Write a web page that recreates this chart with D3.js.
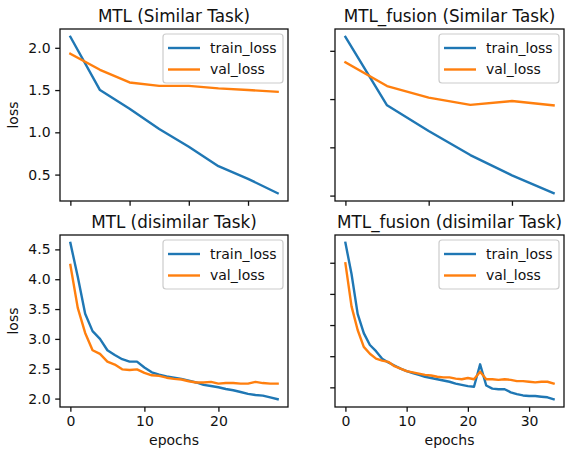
<!DOCTYPE html>
<html>
<head>
<meta charset="utf-8">
<script src="https://cdn.jsdelivr.net/npm/d3@7"></script>
<style>
  html, body { margin: 0; padding: 0; background: #fff; }
  svg { display: block; }
  text { font-family: "DejaVu Sans", sans-serif; fill: #111; }
</style>
</head>
<body>
<svg id="chart" width="566" height="452"></svg>
<script>
// ---- data ----
const seriesNames = ["train_loss", "val_loss"];
const titles = ["MTL (Similar Task)", "MTL_fusion (Similar Task)", "MTL (disimilar Task)", "MTL_fusion (disimilar Task)"];

const simMtlTrain = [2.13, 1.50, 1.28, 1.04, 0.83, 0.60, 0.45, 0.28];
const simMtlVal   = [1.93, 1.74, 1.59, 1.55, 1.55, 1.52, 1.50, 1.48];

const simFusionTrain = [2.145, 1.435, 1.17, 0.92, 0.71, 0.525];
const simFusionVal   = [1.88, 1.635, 1.515, 1.44, 1.48, 1.435];

const disMtlTrain = [4.61, 4.04, 3.42, 3.13, 3.00, 2.81, 2.73, 2.66, 2.62, 2.62, 2.52, 2.44, 2.40, 2.37, 2.35,
                     2.33, 2.30, 2.27, 2.23, 2.21, 2.19, 2.16, 2.14, 2.11, 2.08, 2.06, 2.05, 2.02, 1.99];
const disMtlVal   = [4.24, 3.52, 3.10, 2.81, 2.75, 2.62, 2.57, 2.49, 2.48, 2.49, 2.43, 2.39, 2.38, 2.35, 2.33,
                     2.32, 2.29, 2.27, 2.27, 2.28, 2.25, 2.26, 2.26, 2.25, 2.25, 2.28, 2.26, 2.25, 2.25];

const disFusionTrain = [4.32, 3.82, 3.18, 2.87, 2.68, 2.58, 2.46, 2.40, 2.35, 2.30, 2.26, 2.23, 2.20, 2.17, 2.15,
                        2.13, 2.11, 2.09, 2.06, 2.04, 2.02, 2.01, 2.37, 2.03, 1.98, 1.97, 1.97, 1.92, 1.89, 1.87,
                        1.86, 1.86, 1.85, 1.84, 1.81];
const disFusionVal   = [3.99, 3.30, 2.92, 2.65, 2.54, 2.46, 2.43, 2.41, 2.34, 2.30, 2.26, 2.24, 2.22, 2.20, 2.19,
                        2.17, 2.16, 2.16, 2.14, 2.13, 2.15, 2.13, 2.25, 2.13, 2.13, 2.12, 2.13, 2.12, 2.10, 2.10,
                        2.09, 2.08, 2.09, 2.09, 2.06];

const simMtlXTicks = [0, 2, 4, 6];
const simFusionXTicks = [0, 2, 4];
const disMtlXTicks = [0, 10, 20];
const disFusionXTicks = [0, 10, 20, 30];
const simYTicks = [0.5, 1.0, 1.5, 2.0];
const disYTicks = [2.0, 2.5, 3.0, 3.5, 4.0, 4.5];
const disFusionYTicks = [2.0, 2.5, 3.0, 3.5, 4.0];

const xLabel = "epochs";
const yLabel = "loss";
const colors = ["#1f77b4", "#ff7f0e"];

// ---- layout ----
const svg = d3.select("#chart");
const FS = 14, TFS = 16.8, TICK = 4.8, PAD = 4.6, LW = 2.4, SW = 1.3;

const panels = [
  { title: titles[0], series: [simMtlTrain, simMtlVal], xTicks: simMtlXTicks, yTicks: simYTicks,
    xLab: false, yLab: true, box: { x: 60, y: 29, w: 228, h: 172 } },
  { title: titles[1], series: [simFusionTrain, simFusionVal], xTicks: simFusionXTicks, yTicks: simYTicks,
    xLab: false, yLab: false, box: { x: 335, y: 29, w: 229, h: 172 } },
  { title: titles[2], series: [disMtlTrain, disMtlVal], xTicks: disMtlXTicks, yTicks: disYTicks,
    xLab: true, yLab: true, box: { x: 60, y: 235, w: 228, h: 172 } },
  { title: titles[3], series: [disFusionTrain, disFusionVal], xTicks: disFusionXTicks, yTicks: disFusionYTicks,
    xLab: true, yLab: false, box: { x: 335, y: 235, w: 229, h: 172 } }
];

panels.forEach(p => {
  const b = p.box;
  const n = p.series[0].length - 1;
  const all = p.series.flat();
  const lo = d3.min(all), hi = d3.max(all), r = hi - lo;
  const x = d3.scaleLinear().domain([-0.05 * n, n * 1.05]).range([b.x, b.x + b.w]);
  const y = d3.scaleLinear().domain([lo - 0.05 * r, hi + 0.05 * r]).range([b.y + b.h, b.y]);

  const g = svg.append("g");

  const line = d3.line().x((d, i) => x(i)).y(d => y(d));
  p.series.forEach((s, k) => {
    g.append("path").datum(s).attr("d", line)
      .attr("fill", "none").attr("stroke", colors[k]).attr("stroke-width", LW)
      .attr("stroke-linejoin", "round").attr("stroke-linecap", "square");
  });

  // axes
  const xa = d3.axisBottom(x).tickValues(p.xTicks).tickSize(TICK).tickPadding(PAD).tickSizeOuter(0)
    .tickFormat(p.xLab ? d3.format("d") : () => "");
  const ya = d3.axisLeft(y).tickValues(p.yTicks).tickSize(TICK).tickPadding(PAD).tickSizeOuter(0)
    .tickFormat(p.yLab ? d3.format(".1f") : () => "");
  const gx = g.append("g").attr("transform", `translate(0,${b.y + b.h})`).call(xa);
  const gy = g.append("g").attr("transform", `translate(${b.x},0)`).call(ya);
  [gx, gy].forEach(a => {
    a.select(".domain").remove();
    a.selectAll("line").attr("stroke", "#111").attr("stroke-width", SW);
    a.selectAll("text").attr("font-size", FS).attr("font-family", "DejaVu Sans").attr("fill", "#111");
  });

  // frame
  g.append("rect").attr("x", b.x).attr("y", b.y).attr("width", b.w).attr("height", b.h)
    .attr("fill", "none").attr("stroke", "#111").attr("stroke-width", SW);

  // title
  g.append("text").attr("x", b.x + b.w / 2).attr("y", b.y - 7)
    .attr("text-anchor", "middle").attr("font-size", TFS).text(p.title);

  if (p.yLab) {
    g.append("text").attr("transform", `translate(${b.x - 42},${b.y + b.h / 2}) rotate(-90)`)
      .attr("text-anchor", "middle").attr("font-size", FS).text(yLabel);
  }
  if (p.xLab) {
    g.append("text").attr("x", b.x + b.w / 2).attr("y", 445)
      .attr("text-anchor", "middle").attr("font-size", FS).text(xLabel);
  }

  // legend
  const lw = 120, lh = 49;
  const lx = b.x + b.w - 5 - lw, ly = b.y + 5;
  const lg = g.append("g");
  lg.append("rect").attr("x", lx).attr("y", ly).attr("width", lw).attr("height", lh)
    .attr("rx", 3).attr("fill", "#fff").attr("fill-opacity", 0.8)
    .attr("stroke", "#cccccc").attr("stroke-width", 1.2);
  seriesNames.forEach((name, k) => {
    const cy = ly + 14 + k * 21.5;
    lg.append("line").attr("x1", lx + 5).attr("x2", lx + 37).attr("y1", cy).attr("y2", cy)
      .attr("stroke", colors[k]).attr("stroke-width", LW);
    lg.append("text").attr("x", lx + 47).attr("y", cy).attr("dy", "0.35em")
      .attr("font-size", FS).text(name);
  });
});
</script>
</body>
</html>
